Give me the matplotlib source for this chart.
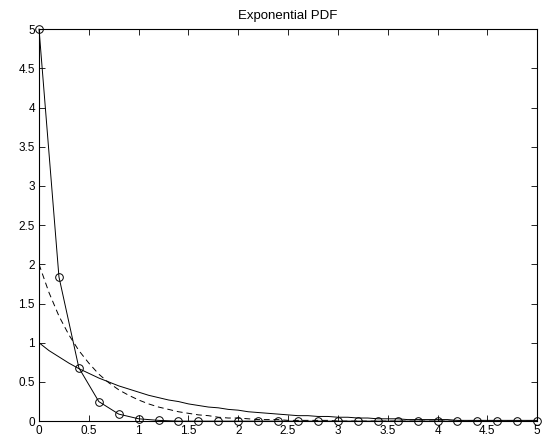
# Exponential PDF, three rates
import numpy as np
import matplotlib
matplotlib.use('Agg')
import matplotlib.pyplot as plt

plt.rcParams['font.family'] = ['Liberation Sans', 'DejaVu Sans']

# fine grid for the smooth curves (step 0.1)
x_fine = np.arange(51) * 0.1
pdf_l1 = [1.00, 0.90, 0.82, 0.74, 0.67, 0.61, 0.55, 0.50, 0.45, 0.41,
          0.37, 0.33, 0.30, 0.27, 0.25, 0.22, 0.20, 0.18, 0.17, 0.15,
          0.14, 0.12, 0.11, 0.10, 0.09, 0.08, 0.07, 0.07, 0.06, 0.06,
          0.05, 0.05, 0.04, 0.04, 0.03, 0.03, 0.03, 0.02, 0.02, 0.02,
          0.02, 0.02, 0.01, 0.01, 0.01, 0.01, 0.01, 0.01, 0.01, 0.01,
          0.01]
pdf_l2 = [2.00, 1.64, 1.34, 1.10, 0.90, 0.74, 0.60, 0.49, 0.40, 0.33,
          0.27, 0.22, 0.18, 0.15, 0.12, 0.10, 0.08, 0.07, 0.05, 0.04,
          0.04, 0.03, 0.02, 0.02, 0.02, 0.01, 0.01, 0.01, 0.01, 0.01,
          0.00, 0.00, 0.00, 0.00, 0.00, 0.00, 0.00, 0.00, 0.00, 0.00,
          0.00, 0.00, 0.00, 0.00, 0.00, 0.00, 0.00, 0.00, 0.00, 0.00,
          0.00]
# coarse grid with markers (step 0.2)
x_coarse = np.arange(26) * 0.2
pdf_l5 = [5.00, 1.84, 0.68, 0.25, 0.09, 0.03, 0.01, 0.00, 0.00, 0.00,
          0.00, 0.00, 0.00, 0.00, 0.00, 0.00, 0.00, 0.00, 0.00, 0.00,
          0.00, 0.00, 0.00, 0.00, 0.00, 0.00]

xticks = [0, 0.5, 1, 1.5, 2, 2.5, 3, 3.5, 4, 4.5, 5]
xticklabels = ['0', '0.5', '1', '1.5', '2', '2.5', '3', '3.5', '4', '4.5', '5']
yticks = [0, 0.5, 1, 1.5, 2, 2.5, 3, 3.5, 4, 4.5, 5]
yticklabels = ['0', '0.5', '1', '1.5', '2', '2.5', '3', '3.5', '4', '4.5', '5']

fig = plt.figure(figsize=(5.42, 4.41), dpi=100)
ax = fig.add_axes([0.072, 0.045, 0.919, 0.889])

ax.plot(x_fine, pdf_l1, 'k-', lw=0.7)
ax.plot(x_fine, pdf_l2, 'k--', lw=0.7, dashes=(6, 4))
ax.plot(x_coarse, pdf_l5, 'k-', lw=0.7, marker='o', ms=5.5,
        mfc='none', mec='k', mew=0.7, clip_on=False, zorder=5)

ax.set_xlim(0, 5)
ax.set_ylim(0, 5)
ax.set_xticks(xticks)
ax.set_xticklabels(xticklabels)
ax.set_yticks(yticks)
ax.set_yticklabels(yticklabels)
ax.tick_params(direction='in', length=4, width=0.6, labelsize=8.5,
               top=True, right=True, pad=3)
for s in ax.spines.values():
    s.set_linewidth(0.8)
ax.set_title('Exponential PDF', fontsize=9.5, pad=7)

fig.savefig('out.png', dpi=100)
